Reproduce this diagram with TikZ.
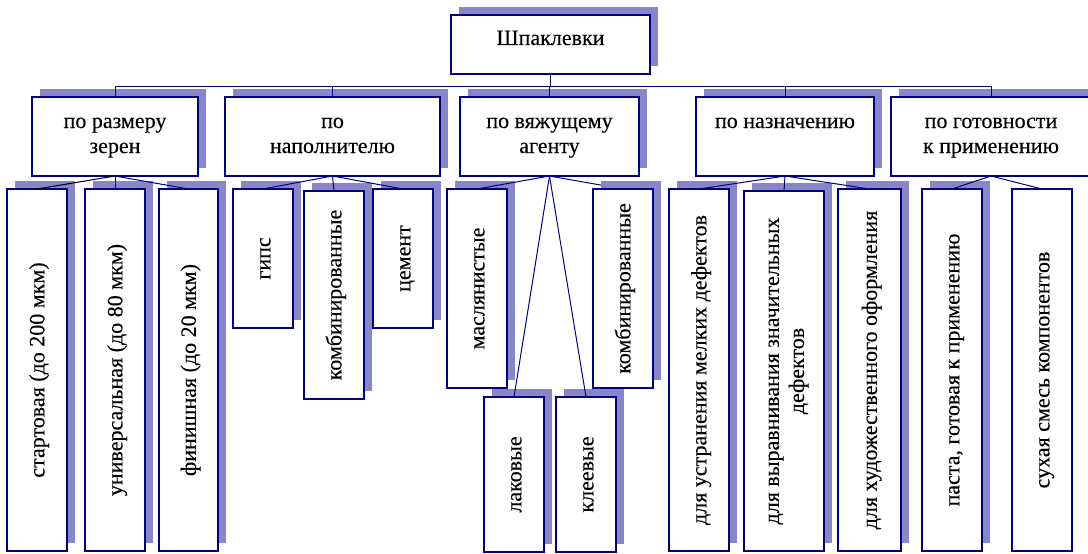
\documentclass[tikz,border=0pt]{standalone}
\usepackage{fontspec}
\setmainfont{Liberation Serif}[FakeBold=0.15]
\usepackage{graphicx}
\usetikzlibrary{shadows}
\definecolor{navy}{RGB}{0,0,128}
\definecolor{shadowc}{RGB}{135,135,200}
\pgfdeclarelayer{background}
\pgfsetlayers{background,main}
\newcommand{\rtext}[1]{\rotatebox{90}{\makebox[0pt]{\raisebox{-2.4pt}[\height][\depth]{\begin{tabular}{@{}c@{}}#1\end{tabular}}}}}
% name, x1, y1, x2, y2, baseline offset, text, style
\newcommand{\tbox}[8]{\node[#8, anchor=north west] (#1) at (#2,#3) {\parbox[t][\dimexpr#5pt-#3pt\relax][t]{\dimexpr#4pt-#2pt\relax}{\centering\rule{0pt}{#6pt}#7}};}
% name, x1, y1, x2, y2, text, style
\newcommand{\vbx}[7]{\node[#7, anchor=north west, minimum width={#4-#2}, minimum height={#5-#3}] (#1) at (#2,#3) {\rtext{#6}};}
\begin{document}
\begin{tikzpicture}[x=1pt,y=-1pt,
  every node/.style={font=\fontsize{22}{25}\selectfont},
  box/.style={draw=navy, line width=1.2pt, fill=white, inner sep=0pt, outer sep=0pt,
    general shadow={fill=shadowc, shadow xshift=8pt, shadow yshift=8pt}},
  thickbox/.style={box, line width=2.5pt},
  plainthick/.style={draw=navy, line width=2.5pt, fill=white, inner sep=0pt, outer sep=0pt},
  link/.style={draw=navy, line width=1pt}]
\useasboundingbox (0,0) rectangle (1088,554);
% top
\tbox{T}{451}{15}{650}{74}{30}{Шпаклевки}{thickbox}
% level 2
\tbox{A}{32}{97}{198}{176}{31}{по размеру\\зерен}{box}
\tbox{B}{225}{97}{440}{176}{31}{по\\наполнителю}{box}
\tbox{C}{460}{97}{639}{176}{31}{по вяжущему\\агенту}{box}
\tbox{D}{696}{97}{874}{176}{31}{по назначению}{box}
\tbox{E}{891}{97}{1091}{176}{31}{по готовности\\к применению}{box}
% level 3
\vbx{A1}{7}{189}{67}{551}{стартовая (до 200 мкм)}{box}
\vbx{A2}{85}{189}{145}{551}{универсальная (до 80 мкм)}{box}
\vbx{A3}{159}{189}{218}{551}{финишная (до 20 мкм)}{box}
\vbx{B1}{233}{189}{293}{328}{гипс}{box}
\vbx{B2}{304}{191}{364}{399}{комбинированные}{box}
\vbx{B3}{373}{189}{433}{328}{цемент}{box}
\vbx{C1}{447}{189}{507}{388}{маслянистые}{box}
\vbx{C2}{484}{397}{544}{552}{лаковые}{box}
\vbx{C3}{556}{397}{616}{552}{клеевые}{box}
\vbx{C4}{593}{189}{653}{388}{комбинированные}{box}
\vbx{D1}{669}{189}{729}{551}{для устранения мелких дефектов}{box}
\vbx{D2}{744}{191}{824}{551}{для выравнивания значительных\\дефектов}{box}
\vbx{D3}{838}{189}{901}{551}{для художественного оформления}{box}
\vbx{E1}{922}{189}{982}{551}{паста, готовая к применению}{box}
\vbx{E2}{1012}{189}{1072}{551}{сухая смесь компонентов}{plainthick}
% connectors
\coordinate (busy) at (0,86);
\draw[link] (T.south) -- (T.south |- busy);
\foreach \n in {A,B,C,D,E}
  \draw[link] (\n.north) -- (\n.north |- busy) -- (T.south |- busy);
\draw[link, draw=black] (A.south) -- (A1.north);
\foreach \c in {A2,A3} \draw[link] (A.south) -- (\c.north);
\foreach \c in {B1,B2,B3} \draw[link] (B.south) -- (\c.north);
\foreach \c in {C1,C2,C3} \draw[link] (C.south) -- (\c.north);
\begin{pgfonlayer}{background}
\draw[link] (C.south) -- (C4.north);
\end{pgfonlayer}
\foreach \c in {D1,D2,D3} \draw[link] (D.south) -- (\c.north);
\foreach \c in {E1,E2} \draw[link] (E.south) -- (\c.north);
\end{tikzpicture}
\end{document}
